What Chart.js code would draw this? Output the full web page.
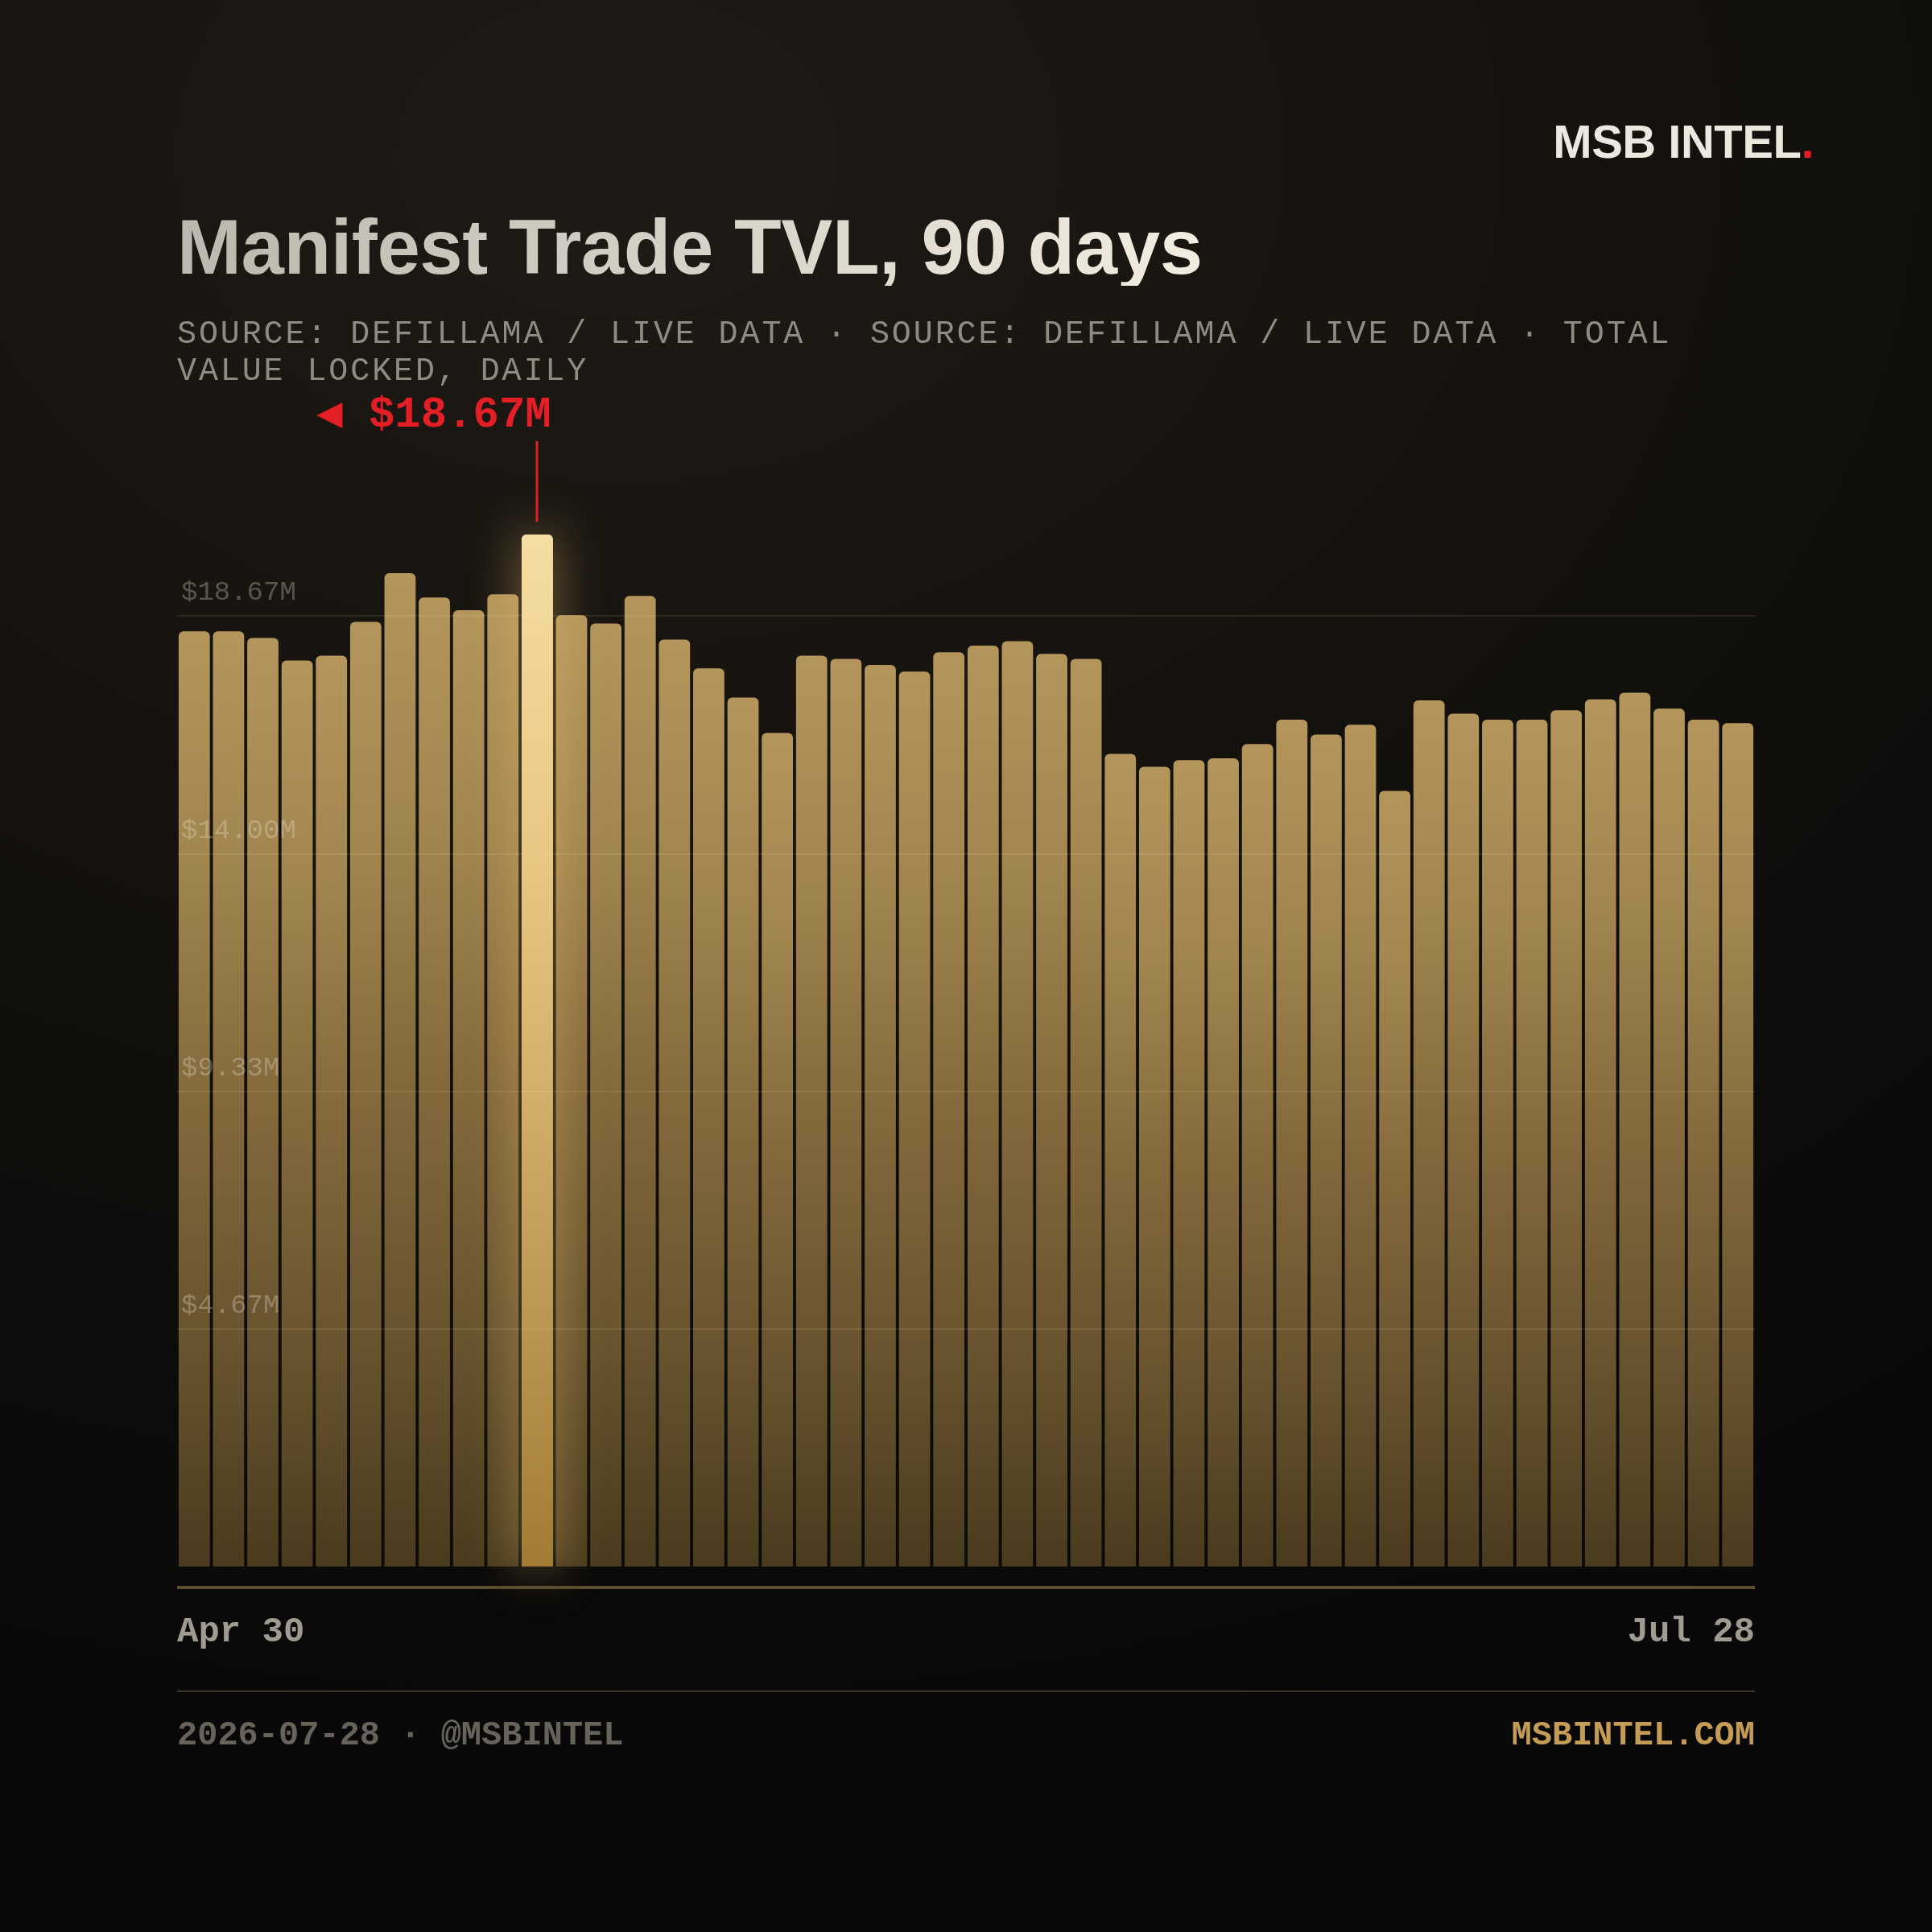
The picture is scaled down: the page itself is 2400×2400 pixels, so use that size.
<!DOCTYPE html>
<html><head><meta charset="utf-8">
<script src="https://cdn.jsdelivr.net/npm/chart.js@4.4.1/dist/chart.umd.min.js"></script>
<style>
html,body{margin:0;padding:0;background:#080808;}
#page{position:relative;width:2400px;height:2400px;overflow:hidden;
 background:radial-gradient(ellipse 115% 85% at 32% 8%, #1e1a15 0%, #17140f 35%, #0e0d0b 68%, #080808 100%);}
#c{position:absolute;left:0;top:0;}
.abs{position:absolute;white-space:nowrap;}
#brand{right:147px;top:147px;font:bold 58px/58px 'Liberation Sans',Arial,sans-serif;color:#ede8df;letter-spacing:-0.5px;}
#brand span{color:#e31e24;}
#title{left:220px;top:259px;font:bold 96px/96px 'Liberation Sans',Arial,sans-serif;letter-spacing:-0.45px;
 background:linear-gradient(90deg,#bcb8ae,#f2ece1);-webkit-background-clip:text;background-clip:text;color:transparent;}
#subtitle{left:220px;top:393px;width:1960px;white-space:normal;font:40px/46px 'Liberation Mono',monospace;letter-spacing:2.9px;color:#908b81;}
#ann{font:bold 54px/54px 'Liberation Mono','DejaVu Sans Mono',monospace;color:#e41e26;}
.xl{top:2005px;font:bold 44px/44px 'Liberation Mono',monospace;color:#a09b91;}
#divider{left:220px;top:2100px;width:1960px;height:2px;background:#3a3223;}
.ft{top:2135px;font:bold 42px/42px 'Liberation Mono',monospace;}
</style></head>
<body><div id="page">
<canvas id="c" width="2400" height="2400"></canvas>
<div id="brand" class="abs">MSB INTEL<span>.</span></div>
<div id="title" class="abs">Manifest Trade TVL, 90 days</div>
<div id="subtitle" class="abs">SOURCE: DEFILLAMA / LIVE DATA · SOURCE: DEFILLAMA / LIVE DATA · TOTAL VALUE LOCKED, DAILY</div>
<div id="ann" class="abs"></div>
<div id="xStart" class="abs xl" style="left:220px"></div>
<div id="xEnd" class="abs xl" style="right:220px"></div>
<div id="divider" class="abs"></div>
<div class="abs ft" style="left:220px;color:#67635b">2026-07-28 · @MSBINTEL</div>
<div class="abs ft" style="right:220px;color:#c59c55">MSBINTEL.COM</div>
</div>
<script>
// TVL in millions USD, one bar per sample (Apr 30 -> Jul 28)
const tvlValues = [16.92,16.92,16.80,16.39,16.48,17.09,17.97,17.53,17.30,17.59,
                   18.67,17.21,17.06,17.56,16.77,16.25,15.72,15.08,16.48,16.42,
                   16.31,16.19,16.54,16.66,16.74,16.51,16.42,14.70,14.47,14.59,
                   14.62,14.88,15.32,15.05,15.23,14.03,15.67,15.43,15.32,15.32,
                   15.49,15.69,15.81,15.52,15.32,15.26];
const categories = tvlValues.map((_, i) => 'd' + (i + 1));
const axisStartLabel = 'Apr 30';
const axisEndLabel = 'Jul 28';
const gridTickValues = [4.67, 9.33, 14.00, 18.67];
const gridTickLabels = ['$4.67M', '$9.33M', '$14.00M', '$18.67M'];
const peakLabel = '◀ $18.67M';
// the reference draws its gridlines on a slightly taller scale than its bars
const gridScaleMax = 20.27;

const peakValue = Math.max(...tvlValues);
const peakIndex = tvlValues.indexOf(peakValue);

function barFill(context) {
  const chart = context.chart;
  const ys = chart.scales.y;
  if (!ys || !chart.chartArea) return '#a08150';
  const top = ys.getPixelForValue(context.raw);
  const base = ys.getPixelForValue(0);
  const g = chart.ctx.createLinearGradient(0, top, 0, base);
  if (context.dataIndex === peakIndex) {
    g.addColorStop(0, '#f6dda2');
    g.addColorStop(0.33, '#e8c682');
    g.addColorStop(1, '#a27c35');
  } else {
    g.addColorStop(0, '#b4965c');
    g.addColorStop(0.25, '#a1854f');
    g.addColorStop(0.5, '#84693c');
    g.addColorStop(0.77, '#67532e');
    g.addColorStop(1, '#4a3b1e');
  }
  return g;
}

const glowPlugin = {
  id: 'glow',
  afterDatasetsDraw(chart) {
    const el = chart.getDatasetMeta(0).data[peakIndex];
    const p = el.getProps(['x', 'y', 'base', 'width'], true);
    const c = chart.ctx;
    c.save();
    c.shadowColor = 'rgba(245,200,115,0.5)';
    c.shadowBlur = 60;
    c.shadowOffsetX = 10000;
    c.fillStyle = '#000';
    c.fillRect(p.x - p.width / 2 - 10000, p.y, p.width, p.base - p.y);
    c.restore();
    el.draw(c, chart.chartArea);
    // annotation leader line
    c.fillStyle = '#e3202a';
    c.fillRect(Math.round(p.x) - 1.5, p.y - 116, 3, 100);
    // baseline rule under the bars
    const a = chart.chartArea;
    c.fillStyle = '#5d4d2f';
    c.fillRect(a.left, a.bottom + 24, a.right - a.left, 4);
  }
};

const chart = new Chart(document.getElementById('c'), {
  type: 'bar',
  data: {
    labels: categories,
    datasets: [{
      data: tvlValues,
      backgroundColor: barFill,
      borderRadius: 6,
      borderSkipped: 'bottom',
      barPercentage: 0.91,
      categoryPercentage: 1,
      yAxisID: 'y'
    }]
  },
  options: {
    responsive: false,
    animation: false,
    devicePixelRatio: 1,
    layout: { padding: { left: 220, right: 220, top: 664, bottom: 454 } },
    plugins: { legend: { display: false }, tooltip: { enabled: false } },
    scales: {
      x: { display: false, offset: true, grid: { display: false } },
      y: { display: false, min: 0, max: peakValue },
      g: {
        position: 'left', min: 0, max: gridScaleMax,
        afterFit: s => { s.width = 0; },
        afterBuildTicks: s => { s.ticks = gridTickValues.map(v => ({ value: v })); },
        grid: { color: 'rgba(255,232,185,0.1)', lineWidth: 2, drawTicks: false, z: 1 },
        border: { display: false },
        ticks: {
          z: 1,
          mirror: true, padding: 5, labelOffset: -29,
          color: 'rgba(240,235,225,0.3)',
          font: { family: "'Liberation Mono', monospace", size: 34 },
          callback: (v, i) => gridTickLabels[i]
        }
      }
    }
  },
  plugins: [glowPlugin]
});

const peakEl = chart.getDatasetMeta(0).data[peakIndex];
const ann = document.getElementById('ann');
ann.textContent = peakLabel;
ann.style.right = (2400 - (peakEl.x + peakEl.width / 2 - 2)) + 'px';
ann.style.top = (peakEl.y - 134 - 41.4) + 'px';
document.getElementById('xStart').textContent = axisStartLabel;
document.getElementById('xEnd').textContent = axisEndLabel;
</script>
</body></html>
